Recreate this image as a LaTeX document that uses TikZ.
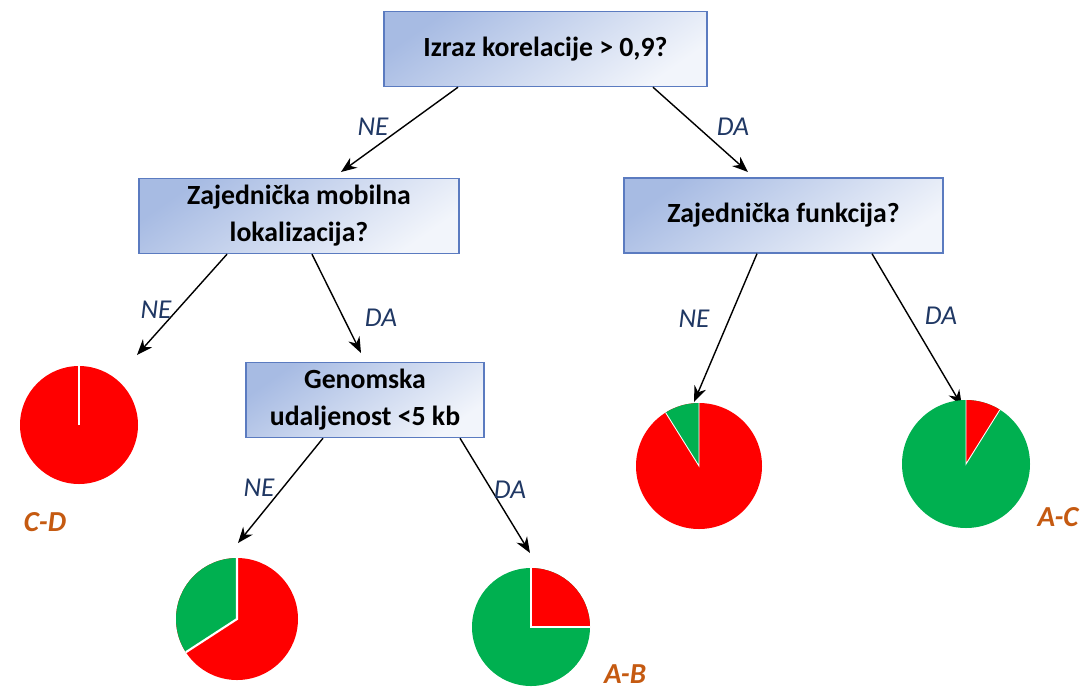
\documentclass[tikz,border=0pt]{standalone}
\usepackage{fontspec}
\setmainfont{Carlito}
\usetikzlibrary{arrows.meta,calc}

\definecolor{boxline}{HTML}{5B7BC0}
\definecolor{boxdark}{HTML}{A7BBE3}
\definecolor{boxlight}{HTML}{F2F5FB}
\definecolor{ansblue}{HTML}{203864}
\definecolor{pairorange}{HTML}{C55A11}
\definecolor{pred}{HTML}{FF0000}
\definecolor{pgreen}{HTML}{00B050}

\tikzset{
  qbox/.style={draw=boxline,line width=0.8pt,top color=boxdark,bottom color=boxlight,
    shading angle=35,align=center,inner sep=0pt,minimum height=1.5cm,
    font=\fontsize{15.8}{21}\selectfont\bfseries},
  ans/.style={text=ansblue,font=\fontsize{15.5}{18}\selectfont\itshape},
  pair/.style={text=pairorange,font=\fontsize{16.5}{18}\selectfont\bfseries\itshape},
  arr/.style={-{Stealth[length=9pt,width=7pt]},line width=0.8pt},
  cut/.style={white,line width=1.2pt}
}

\begin{document}
\begin{tikzpicture}[x=0.02cm,y=0.02cm]
      \useasboundingbox (0,0) rectangle (1086,-691);
      \node[qbox,minimum width=6.46cm] (top) at (545.5,-49) {Izraz korelacije > 0,9?};
      \node[qbox,minimum width=6.4cm] (left) at (299,-216) {Zajednička mobilna\\lokalizacija?};
      \node[qbox,minimum width=6.38cm] (right) at (783.5,-215.5) {Zajednička funkcija?};
      \node[qbox,minimum width=4.76cm] (mid) at (365,-400) {Genomska\\udaljenost <5 kb};
      % arrow ends
      \coordinate (e1) at (341,-172);
      \coordinate (e2) at (748,-172);
      \coordinate (e3) at (137,-355);
      \coordinate (e4) at (361,-353);
      \coordinate (e5) at (694,-402);
      \coordinate (e6) at (962,-406);
      \coordinate (e7) at (238,-543);
      \coordinate (e8) at (530,-553);
      \draw[arr] ($(top.south)+(-87.5,0)$) -- (e1);
      \draw[arr] ($(top.south)+(107.5,0)$) -- (e2);
      \draw[arr] ($(left.south)+(-72,0)$) -- (e3);
      \draw[arr] ($(left.south)+(13,0)$) -- (e4);
      \draw[arr] ($(right.south)+(-26.5,0)$) -- (e5);
      \draw[arr] ($(right.south)+(88.5,0)$) -- (e6);
      \draw[arr] ($(mid.south)+(-42,0)$) -- (e7);
      \draw[arr] ($(mid.south)+(95,0)$) -- (e8);
      \node[ans] (a1) at (373,-127) {NE};
      \node[ans] (a2) at (733,-127) {DA};
      \node[ans] (a3) at (156,-310) {NE};
      \node[ans] (a4) at (381,-318) {DA};
      \node[ans] (a5) at (694,-319) {NE};
      \node[ans] (a6) at (941,-316) {DA};
      \node[ans] (a7) at (259,-488) {NE};
      \node[ans] (a8) at (510,-490) {DA};
      % pies
      \fill[pred] (79,-425) circle (59);
      \draw[cut] (79,-425) -- ++(90:59);
      \fill[pred] (237,-619) circle (61);
      \fill[pgreen] (237,-619) -- ++(90:61) arc (90:213:61) -- cycle;
      \draw[cut] ($(237,-619)+(90:61)$) -- (237,-619) -- ++(213:61);
      \fill[pgreen] (531,-627) circle (59);
      \fill[pred] (531,-627) -- ++(0:59) arc (0:90:59) -- cycle;
      \draw[cut] ($(531,-627)+(0:59)$) -- (531,-627) -- ++(90:59);
      \fill[pred] (699,-466) circle (63);
      \fill[pgreen] (699,-466) -- ++(90:63) arc (90:122:63) -- cycle;
      \draw[cut,line width=0.5pt] ($(699,-466)+(90:63)$) -- (699,-466) -- ++(122:63);
      \fill[pgreen] (966,-464) circle (64);
      \fill[pred] (966,-464) -- ++(58:64) arc (58:90:64) -- cycle;
      \draw[cut,line width=0.5pt] ($(966,-464)+(90:64)$) -- (966,-464) -- ++(58:64);
      \node[pair] (cd) at (45,-522) {C-D};
      \node[pair,inner sep=1pt] (ab) at (625,-674) {A-B};
      \node[pair] (ac) at (1058,-517) {A-C};
\end{tikzpicture}
\end{document}
